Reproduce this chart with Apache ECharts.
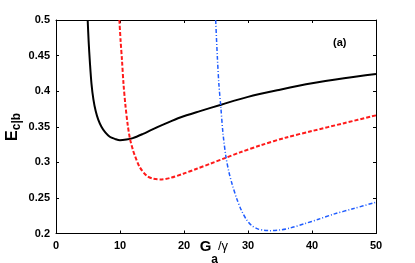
<!DOCTYPE html>
<html><head><meta charset="utf-8">
<script src="https://cdn.jsdelivr.net/npm/echarts@6/dist/echarts.min.js"></script>
<style>html,body{margin:0;padding:0;background:#fff}#c{width:415px;height:263px}</style>
</head><body><div id="c"></div>
<script>
const xTicks = [0, 10, 20, 30, 40, 50];
const yTicks = [0.2, 0.25, 0.3, 0.35, 0.4, 0.45, 0.5];

const blackX = [4.95, 5.1, 5.3, 5.55, 5.85, 6.2, 6.6, 7.1, 7.7, 8.4, 9.2, 10, 11, 12, 13.6, 15, 17, 19.4, 22.5, 25.8, 30, 35, 40, 45, 50];
const blackY = [0.5, 0.47, 0.44, 0.41, 0.388, 0.372, 0.36, 0.35, 0.342, 0.336, 0.333, 0.331, 0.332, 0.334, 0.34, 0.346, 0.354, 0.363, 0.372, 0.381, 0.392, 0.402, 0.411, 0.418, 0.424];

const redX = [9.9, 10.1, 10.3, 10.55, 10.85, 11.2, 11.56, 12.0, 12.34, 13.1, 14.2, 15.2, 16.5, 17.8, 19.9, 22.0, 24.1, 26.4, 28.75, 32, 36, 40, 45, 50];
const redY = [0.5, 0.47, 0.445, 0.41, 0.38, 0.353, 0.333, 0.318, 0.309, 0.293, 0.281, 0.277, 0.276, 0.278, 0.284, 0.291, 0.298, 0.306, 0.314, 0.324, 0.335, 0.344, 0.355, 0.366];

const blueX = [24.95, 25.2, 25.45, 25.75, 26.1, 26.55, 27.0, 27.5, 28.2, 29.0, 29.8, 30.6, 31.5, 32.5, 33.5, 35, 36.5, 38.9, 41, 43.3, 46.5, 50];
const blueY = [0.5, 0.45, 0.41, 0.378, 0.34, 0.308, 0.287, 0.27, 0.25, 0.232, 0.219, 0.211, 0.2065, 0.2045, 0.204, 0.205, 0.2075, 0.214, 0.22, 0.227, 0.235, 0.244];

const pairs = (xs, ys) => xs.map((x, i) => [x, ys[i]]);
const FONT = 'Liberation Sans';

const axisCommon = {
  axisLine: { show: true, onZero: false, lineStyle: { color: '#000', width: 1 } },
  axisTick: { show: true, inside: true, length: 3, lineStyle: { color: '#000' } },
  splitLine: { show: false }
};

const chart = echarts.init(document.getElementById('c'));
chart.setOption({
  animation: false,
  backgroundColor: '#fff',
  grid: { left: 56, right: 39, top: 20, bottom: 29.5, containLabel: false, outerBoundsMode: 'none' },
  xAxis: [
    Object.assign({}, axisCommon, {
      type: 'value', min: xTicks[0], max: xTicks[xTicks.length - 1], interval: 10,
      position: 'bottom',
      axisLabel: { color: '#000', fontFamily: FONT, fontWeight: 'bold', fontSize: 11, margin: 7 },
      name: '{g|G}{a|a}{r|/γ}{sp| }', nameLocation: 'middle', nameGap: 6, nameMoveOverlap: false,
      nameTextStyle: {
        color: '#000', fontFamily: FONT, padding: [0, 4, 0, 0],
        rich: {
          g: { fontSize: 15, fontWeight: 'bold', fontFamily: FONT, color: '#000', lineHeight: 16, verticalAlign: 'top' },
          a: { fontSize: 12, fontWeight: 'bold', fontFamily: FONT, color: '#000', lineHeight: 20, verticalAlign: 'bottom' },
          r: { fontSize: 13, fontFamily: FONT, color: '#000', lineHeight: 16, verticalAlign: 'top' },
          sp: { fontSize: 1, lineHeight: 26, verticalAlign: 'top' }
        }
      }
    }),
    Object.assign({}, axisCommon, {
      type: 'value', min: xTicks[0], max: xTicks[xTicks.length - 1], interval: 10,
      position: 'top', axisLabel: { show: false }
    })
  ],
  yAxis: [
    Object.assign({}, axisCommon, {
      type: 'value', min: yTicks[0], max: yTicks[yTicks.length - 1], interval: 0.05,
      position: 'left',
      axisLabel: { color: '#000', fontFamily: FONT, fontWeight: 'bold', fontSize: 11, margin: 6,
        formatter: v => String(+v.toFixed(2)) },
      name: '{e|E}{s|c|b}{sp| }', nameLocation: 'middle', nameRotate: 90, nameGap: 33, nameMoveOverlap: false,
      nameTextStyle: {
        color: '#000', fontFamily: FONT,
        rich: {
          e: { fontSize: 16, fontWeight: 'bold', fontFamily: FONT, color: '#000', lineHeight: 16, verticalAlign: 'top' },
          s: { fontSize: 12, fontWeight: 'bold', fontFamily: FONT, color: '#000', lineHeight: 12, verticalAlign: 'bottom' },
          sp: { fontSize: 1, lineHeight: 18, verticalAlign: 'top' }
        }
      }
    }),
    Object.assign({}, axisCommon, {
      type: 'value', min: yTicks[0], max: yTicks[yTicks.length - 1], interval: 0.05,
      position: 'right', axisLabel: { show: false }
    })
  ],
  graphic: [{
    type: 'text', left: 333, top: 37,
    style: { text: '(a)', font: 'bold 11px "Liberation Sans"', fill: '#000' }
  }],
  series: [
    { type: 'line', data: pairs(blackX, blackY), showSymbol: false, smooth: 0.3,
      lineStyle: { color: '#000', width: 2 } },
    { type: 'line', data: pairs(redX, redY), showSymbol: false, smooth: 0.3,
      lineStyle: { color: '#ff1a1a', width: 2, type: [4, 2] } },
    { type: 'line', data: pairs(blueX, blueY), showSymbol: false, smooth: 0.3,
      lineStyle: { color: '#1f5cff', width: 1.5, type: [4, 2, 1, 2] } }
  ]
});
</script></body></html>
